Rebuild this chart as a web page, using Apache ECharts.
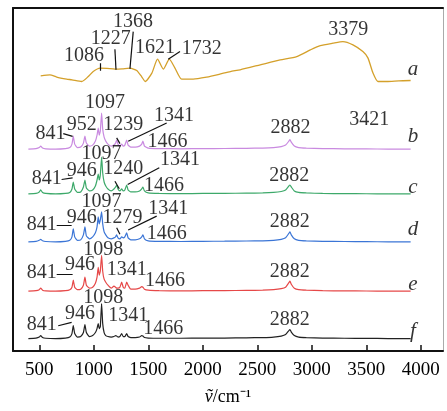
<!DOCTYPE html>
<html><head><meta charset="utf-8">
<script src="https://cdn.jsdelivr.net/npm/echarts@6/dist/echarts.min.js"></script>
<style>html,body{margin:0;padding:0;background:#fff}#c{width:447px;height:411px}</style>
</head><body><div id="c"></div>
<script>
// x tick labels
const xTicks = [500, 1000, 1500, 2000, 2500, 3000, 3500, 4000];
// spectrum a (wavenumber, intensity)
const aWn  = [513, 598, 660, 751, 800, 889, 950, 995, 1057, 1120, 1194, 1260, 1332, 1394, 1440, 1472, 1533, 1585, 1638, 1693, 1745, 1806, 1913, 2036, 2150, 2253, 2343, 2527, 2710, 2862, 2987, 3078, 3194, 3286, 3378, 3469, 3515, 3561, 3607, 3689, 3800, 3907];
const aVal = [6, 7, 4.7, 2.7, 2, 0.3, 5.3, 10.3, 13.7, 13.5, 12.7, 13, 13.7, 11.3, 5, 0.3, 8.7, 22.7, 12.7, 22.7, 13.7, 2.7, 2.7, 4.7, 7.5, 10.3, 12, 17, 22, 25.3, 32, 36.3, 38.7, 40.3, 37, 30.3, 24, 9, 0.3, 0.3, 1, 1.3];
// common wavenumber grid for b-f
const wn = [400, 470, 500, 513, 530, 560, 650, 740, 780, 800, 812, 825, 850, 880, 905, 919, 932, 960, 990, 1015, 1030, 1041, 1050, 1060, 1072, 1082, 1095, 1110, 1130, 1160, 1185, 1200, 1210, 1222, 1240, 1256, 1270, 1285, 1302, 1315, 1340, 1380, 1420, 1440, 1451, 1465, 1500, 1600, 1800, 2000, 2200, 2400, 2550, 2650, 2720, 2760, 2790, 2800, 2812, 2840, 2880, 2950, 3100, 3300, 3500, 3700, 3907];
const specB = [0, 0.5, 1.5, 3, 1, 0.3, 0, 0.5, 1.5, 5, 13, 5, 1.5, 2, 6, 13, 6, 3, 4, 8, 14, 21, 14, 18, 36, 20, 12, 8, 5, 3, 4, 6, 9, 5, 3, 5, 3, 4, 9, 4, 2, 2, 3, 5, 8, 3, 1, 0.5, 0.3, 0.5, 0.6, 0.8, 1, 1.5, 2.5, 4, 8, 9.5, 7, 3, 1.5, 1, 0.5, 0.3, 0.2, 0, 0];
const specC = [0, 0.5, 2, 4, 1.5, 0.5, 0, 0.5, 1.5, 5, 12, 5, 1.5, 2, 7, 14, 6, 3, 4, 8, 14, 20, 14, 19, 37, 21, 12, 8, 5, 3, 5, 7, 9, 5, 3, 5, 3, 4, 9, 4, 2, 2, 3, 5, 7, 3, 1, 0.5, 0.3, 0.5, 0.6, 0.8, 1, 1.5, 2.5, 4, 8, 9, 7, 3, 1.5, 1, 0.5, 0.3, 0.2, 0, 0];
const specD = [0, 0.5, 1.5, 2.5, 1, 0.3, 0, 0.5, 1.5, 5, 13, 5, 1.5, 2, 7, 15, 6, 3, 5, 9, 15, 25, 18, 22, 30, 18, 10, 7, 4, 3, 4, 5, 7, 4, 3, 5, 4, 5, 9, 4, 2, 2, 3, 5, 7, 3, 1, 0.5, 0.3, 0.5, 0.6, 0.8, 1, 1.5, 2.5, 4, 8.5, 10, 7, 3, 1.5, 1, 0.5, 0.3, 0.2, 0, 0];
const specE = [0, 0.5, 1.5, 3, 1, 0.3, 0, 0.5, 1.5, 4, 11, 4, 1.5, 2, 6, 14, 6, 3, 4, 8, 14, 24, 16, 20, 36, 20, 12, 9, 6, 3, 5, 4, 3, 3, 4, 9, 4, 3, 9, 6, 2, 2, 3, 4.5, 4, 2, 1, 0.5, 0.3, 0.5, 0.6, 0.8, 1, 1.5, 2.5, 4, 8.5, 10, 7, 3, 1.5, 1, 0.5, 0.3, 0.2, 0, 0];
const specF = [0, 0.5, 1.5, 3, 1, 0.3, 0, 0.5, 1.5, 5, 13, 5, 1.5, 2, 6, 14, 6, 2, 3, 6, 10, 15, 10, 12, 35, 15, 6, 3, 2, 1.5, 2, 3, 2.5, 1.5, 2, 5, 2, 2, 5, 2, 1, 1, 1.5, 3, 2.5, 1, 0.5, 0.3, 0.3, 0.4, 0.5, 0.7, 1, 1.5, 2.5, 4, 8, 9, 6.5, 3, 1.5, 1, 0.5, 0.3, 0.2, 0, 0];
// vertical stacking offsets
const offsets = { a: 270, b: 202.5, c: 157.5, d: 109.5, e: 60, f: 12.5 };
const colors = { a: '#D4A02A', b: '#C98AE0', c: '#3DA96A', d: '#3B75D6', e: '#E64848', f: '#222222' };
// peak annotations: text, wavenumber position, height position
const peakLabels = [
  ['1368', 1360, 330], ['1227', 1155, 313], ['1621', 1561, 304.5], ['1732', 1990, 303], ['1086', 910, 296.3], ['3379', 3335, 322],
  ['1097', 1103, 248.7], ['841', 603, 218], ['952', 889, 227], ['1239', 1271, 227], ['1341', 1736, 236], ['1466', 1676, 210.3], ['2882', 2806, 223.7], ['3421', 3527, 232],
  ['1097', 1072, 198], ['841', 568, 173], ['946', 889, 180.3], ['1240', 1271, 183], ['1341', 1791, 192], ['1466', 1644, 165.3], ['2882', 2793, 175.3],
  ['1097', 1072, 149.5], ['1341', 1683, 143], ['841', 522, 126.2], ['946', 889, 133.7], ['1279', 1263, 133.7], ['1466', 1669, 118], ['2882', 2797, 129.5],
  ['1098', 1087, 102], ['841', 522, 78], ['946', 873, 86.2], ['1341', 1302, 81.2], ['1466', 1653, 70.3], ['2882', 2797, 79.5],
  ['1098', 1087, 53.7], ['841', 522, 26], ['946', 873, 37], ['1341', 1316, 35.3], ['1466', 1638, 22], ['2882', 2797, 31.2]
];
// leader lines: [wn1, h1, wn2, h2]
const leaders = [
  [1057, 288.7, 1057, 281], [1194, 302.7, 1204, 282], [1362, 320.3, 1332, 283], [1791, 300.3, 1683, 292.7],
  [720, 218, 806, 215.3], [1210, 213.7, 1240, 208], [1669, 228.7, 1316, 210.3],
  [705, 172, 806, 173.7], [1194, 170.3, 1234, 162.7], [1601, 183.7, 1311, 167],
  [660, 126, 797, 126], [1210, 123.7, 1240, 117], [1577, 135.3, 1316, 121.3],
  [660, 77, 806, 77],
  [674, 25.3, 797, 28.7]
];
// curve letters
const curveNames = ['a', 'b', 'c', 'd', 'e', 'f'];
const curveLabelPos = [[3928, 282], [3928, 215], [3928, 164], [3928, 122], [3928, 67], [3928, 20]];

const FONT = "'Liberation Serif','Times New Roman',serif";
const XMIN = 259, XMAX = 4204, YMAX = 344;

const series = [];
series.push({
  type: 'line', xAxisIndex: 0, yAxisIndex: 0, showSymbol: false, smooth: 0.2,
  lineStyle: { color: colors.a, width: 1.3 }, itemStyle: { color: colors.a },
  data: aWn.map((w, i) => [w, aVal[i] + offsets.a]), z: 3
});
[['b', specB], ['c', specC], ['d', specD], ['e', specE], ['f', specF]].forEach(([k, arr]) => {
  series.push({
    type: 'line', xAxisIndex: 0, yAxisIndex: 0, showSymbol: false, smooth: 0.15,
    lineStyle: { color: colors[k], width: 1.2 }, itemStyle: { color: colors[k] },
    data: wn.map((w, i) => [w, arr[i] + offsets[k]]), z: 3
  });
});
series.push({
  type: 'lines', coordinateSystem: 'cartesian2d', xAxisIndex: 0, yAxisIndex: 0,
  lineStyle: { color: '#111', width: 1.2, opacity: 1 }, z: 4,
  data: leaders.map(l => ({ coords: [[l[0], l[1]], [l[2], l[3]]] }))
});
series.push({
  type: 'scatter', xAxisIndex: 0, yAxisIndex: 0, symbolSize: 0, z: 5, silent: true,
  label: { show: true, position: 'inside', formatter: p => p.name, fontFamily: FONT, fontSize: 20, color: '#000' },
  data: peakLabels.map(p => ({ name: p[0], value: [p[1], p[2]] }))
});
series.push({
  type: 'scatter', xAxisIndex: 0, yAxisIndex: 0, symbolSize: 0, z: 5, silent: true,
  label: { show: true, position: 'inside', formatter: p => p.name, fontFamily: FONT, fontSize: 21, fontStyle: 'italic', color: '#000' },
  data: curveNames.map((n, i) => ({ name: n, value: curveLabelPos[i] }))
});

const chart = echarts.init(document.getElementById('c'), null, { renderer: 'canvas' });
chart.setOption({
  animation: false,
  backgroundColor: '#fff',
  grid: { left: 13, right: 4, top: 8, bottom: 59, containLabel: false },
  xAxis: [{
    type: 'value', min: XMIN, max: XMAX, position: 'bottom',
    axisLine: { show: true, onZero: false, lineStyle: { color: '#111', width: 2 } },
    axisTick: { show: true, inside: true, length: 6, customValues: xTicks, lineStyle: { color: '#111', width: 1.5 } },
    axisLabel: { show: true, customValues: xTicks, formatter: v => String(v), margin: 10, fontFamily: FONT, fontSize: 19, color: '#000' },
    splitLine: { show: false },
    name: '{i|ṽ}/cm⁻¹', nameLocation: 'middle', nameGap: 37,
    nameTextStyle: { fontFamily: FONT, fontSize: 18, color: '#000', rich: { i: { fontFamily: FONT, fontSize: 18, fontStyle: 'italic', color: '#000' } } }
  }, {
    type: 'value', min: XMIN, max: XMAX, position: 'top',
    axisLine: { show: true, onZero: false, lineStyle: { color: '#111', width: 2 } },
    axisTick: { show: false }, axisLabel: { show: false }, splitLine: { show: false }
  }],
  yAxis: [{
    type: 'value', min: 0, max: YMAX, position: 'left',
    axisLine: { show: true, onZero: false, lineStyle: { color: '#111', width: 2 } },
    axisTick: { show: false }, axisLabel: { show: false }, splitLine: { show: false }
  }, {
    type: 'value', min: 0, max: YMAX, position: 'right',
    axisLine: { show: true, onZero: false, lineStyle: { color: '#aaa', width: 1 } },
    axisTick: { show: false }, axisLabel: { show: false }, splitLine: { show: false }
  }],
  series: series
});
</script></body></html>
